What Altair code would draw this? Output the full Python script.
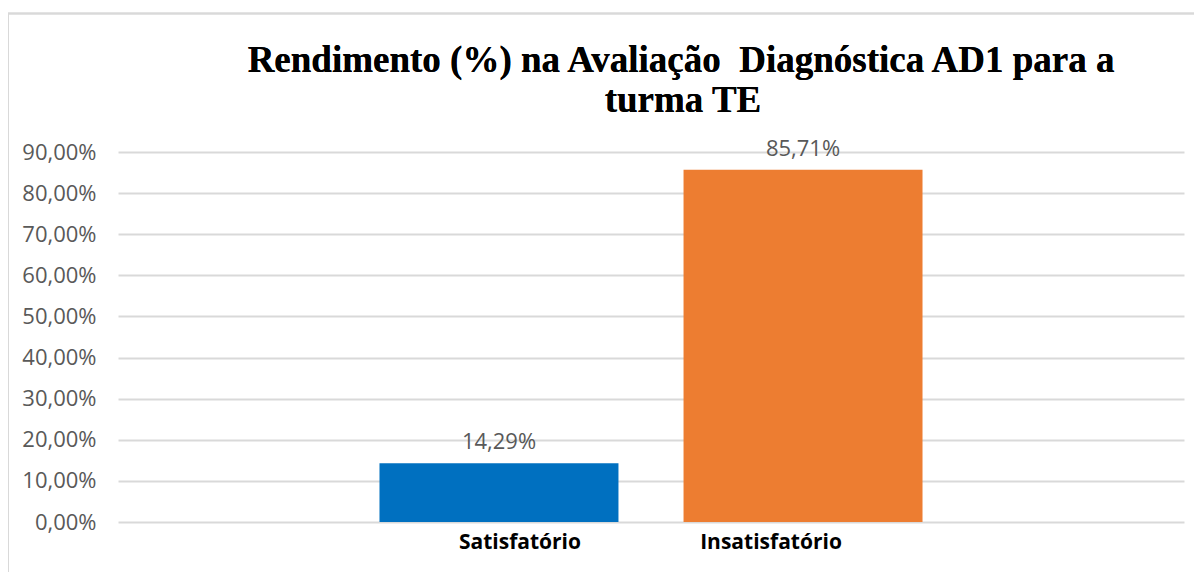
import altair as alt
import pandas as pd

categorias = ["Satisfatório", "Insatisfatório"]
valores = [0.1429, 0.8571]
rotulos = ["14,29%", "85,71%"]
cores = ["#0070C0", "#ED7D31"]
y_ticks = [0, 0.1, 0.2, 0.3, 0.4, 0.5, 0.6, 0.7, 0.8, 0.9]
titulo = ["Rendimento (%) na Avaliação\u00a0\u00a0Diagnóstica AD1 para a", "turma TE"]

df = pd.DataFrame({"categoria": categorias, "valor": valores, "rotulo": rotulos})

x_enc = alt.X(
    "categoria:N",
    sort=categorias,
    scale=alt.Scale(paddingInner=0.214, paddingOuter=0.86),
    axis=alt.Axis(
        title=None, labelAngle=0, domain=False, ticks=False,
        labelFont="Open Sans", labelFontSize=21, labelFontWeight="bold",
        labelColor="#000000", labelPadding=9,
        labelOffset={"condition": {"test": "datum.value == 'Satisfatório'", "value": 21}, "value": -32},
    ),
)
y_enc = alt.Y(
    "valor:Q",
    scale=alt.Scale(domain=[0, 0.9], nice=False),
    axis=alt.Axis(
        title=None, values=y_ticks, domain=False, ticks=False,
        labelExpr="replace(format(datum.value*100, '.2f'), '.', ',') + '%'",
        labelFont="Open Sans", labelFontSize=22, labelColor="#595959",
        labelPadding=22, grid=True, gridColor="#d9d9d9", gridWidth=2,
    ),
)

bars = alt.Chart(df).mark_bar().encode(
    x=x_enc,
    y=y_enc,
    color=alt.Color("categoria:N", scale=alt.Scale(domain=categorias, range=cores), legend=None),
)

text = alt.Chart(df).mark_text(
    font="Open Sans", fontSize=22, color="#595959", baseline="alphabetic", dy=-14
).encode(
    x=alt.X("categoria:N", sort=categorias),
    y=alt.Y("valor:Q"),
    text="rotulo:N",
)

frame = alt.Chart(df).mark_rect(
    fill=None, stroke="#d9d9d9", strokeWidth=2
).encode(
    x=alt.value(-110), x2=alt.value(1150),
    y=alt.value(-138.5), y2=alt.value(500),
)

title_style = dict(font="Liberation Serif", fontSize=37, fontWeight="bold",
                   color="#000000", align="center", baseline="alphabetic")
title1 = alt.Chart(df).mark_text(**title_style).encode(
    x=alt.value(563), y=alt.value(-80), text=alt.value(titulo[0])
)
title2 = alt.Chart(df).mark_text(**title_style).encode(
    x=alt.value(565), y=alt.value(-40), text=alt.value(titulo[1])
)

chart = alt.layer(frame, bars, text, title1, title2).properties(
    width=1066,
    height=370,
    padding={"left": 110, "top": 144, "right": 10, "bottom": 50},
    autosize=alt.AutoSizeParams(type="none"),
).configure_view(stroke=None)

chart.save("out.html", embed_options={"renderer": "svg", "actions": False})
